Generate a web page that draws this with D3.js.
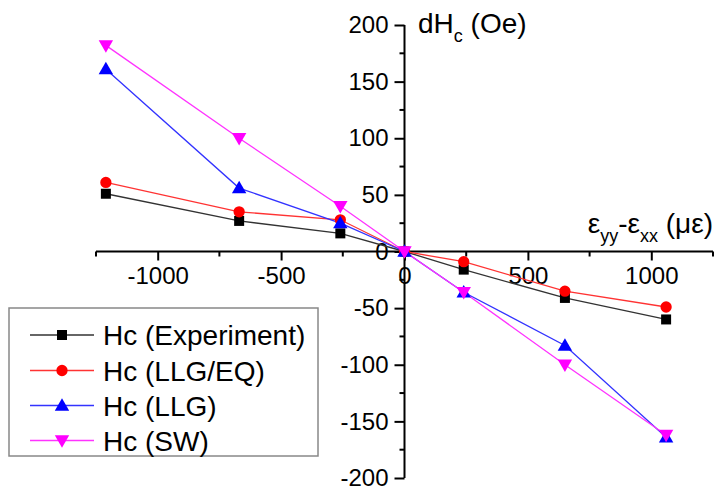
<!DOCTYPE html>
<html><head><meta charset="utf-8">
<script src="https://cdn.jsdelivr.net/npm/d3@7"></script>
<style>body{margin:0;background:#fff}svg{display:block;font-family:"Liberation Sans",Arial,sans-serif}</style>
</head><body><svg id="c" width="720" height="491"></svg>
<script>
const strain = [-1210, -670, -260, 0, 240, 650, 1060];
const hcExperiment = [51, 27, 16, 0, -16, -41, -60];
const hcLLGEQ = [61, 35, 28, 0, -9, -35, -49];
const hcLLG = [161, 56, 25, 0, -36, -83, -164];
const hcSW = [182, 100, 40, 0, -36, -100, -162];
const xTicks = [-1000, -500, 0, 500, 1000];
const yTicks = [-200, -150, -100, -50, 0, 50, 100, 150, 200];
const seriesNames = ["Hc (Experiment)", "Hc (LLG/EQ)", "Hc (LLG)", "Hc (SW)"];

const svg = d3.select("#c");
const x = d3.scaleLinear().domain([-1250, 1250]).range([96, 713]);
const y = d3.scaleLinear().domain([-200, 200]).range([478, 25]);

const series = [
  {name: seriesNames[0], vals: hcExperiment, line: "#333", fill: "#000", sym: d3.symbolSquare, size: 100, rot: 0},
  {name: seriesNames[1], vals: hcLLGEQ, line: "#ff3333", fill: "#ff0000", sym: d3.symbolCircle, size: 100, rot: 0},
  {name: seriesNames[2], vals: hcLLG, line: "#3333ff", fill: "#0000ff", sym: d3.symbolTriangle, size: 90, rot: 0},
  {name: seriesNames[3], vals: hcSW, line: "#ff33ff", fill: "#ff00ff", sym: d3.symbolTriangle, size: 90, rot: 180}
];

// axes
const x0 = x(0), y0 = y(0);
const xAxis = d3.axisBottom(x).tickValues(xTicks).tickSize(9).tickFormat(d => d === 0 ? "0" : d3.format("")(d).replace("−", "-"));
const gx = svg.append("g").attr("transform", `translate(0,${y0})`).call(xAxis);
gx.select(".domain").attr("stroke", "#000").attr("stroke-width", 2).attr("d", `M${x(-1250)},0H${x(1250)}`);
gx.selectAll(".tick line").attr("stroke", "#000").attr("stroke-width", 2);
gx.selectAll(".tick text").attr("font-size", 24).attr("fill", "#000").attr("y", 15).attr("font-family", "Liberation Sans, Arial, sans-serif");
const xMinor = d3.range(-1250, 1251, 250).filter(v => !xTicks.includes(v));
gx.selectAll(".minor").data(xMinor).enter().append("line")
  .attr("x1", d => x(d)).attr("x2", d => x(d)).attr("y1", 0).attr("y2", 5).attr("stroke", "#000").attr("stroke-width", 2);

const yAxis = d3.axisLeft(y).tickValues(yTicks).tickSize(10).tickFormat(d => String(d));
const gy = svg.append("g").attr("transform", `translate(${x0},0)`).call(yAxis);
gy.select(".domain").attr("stroke", "#000").attr("stroke-width", 2).attr("d", `M0,${y(200)}V${y(-200)}`);
gy.selectAll(".tick line").attr("stroke", "#000").attr("stroke-width", 2);
gy.selectAll(".tick text").attr("font-size", 24).attr("fill", "#000").attr("x", -16).attr("font-family", "Liberation Sans, Arial, sans-serif");
const yMinor = d3.range(-175, 200, 50);
gy.selectAll(".minor").data(yMinor).enter().append("line")
  .attr("x1", -5).attr("x2", 0).attr("y1", d => y(d)).attr("y2", d => y(d)).attr("stroke", "#000").attr("stroke-width", 2);

// axis labels
const yl = svg.append("text").attr("x", 418).attr("y", 33).attr("font-size", 28).attr("fill", "#000");
yl.append("tspan").text("dH");
yl.append("tspan").attr("font-size", 18).attr("dy", 9).text("c");
yl.append("tspan").attr("dy", -9).text(" (Oe)");

const xl = svg.append("text").attr("x", 713).attr("y", 233).attr("font-size", 28).attr("fill", "#000").attr("text-anchor", "end");
xl.append("tspan").text("ε");
xl.append("tspan").attr("font-size", 18).attr("dy", 9).text("yy");
xl.append("tspan").attr("dy", -9).text("-ε");
xl.append("tspan").attr("font-size", 18).attr("dy", 9).text("xx");
xl.append("tspan").attr("dy", -9).text(" (με)");

// series
const line = d3.line().x((d, i) => x(strain[i])).y(d => y(d));
series.forEach(s => {
  svg.append("path").attr("d", line(s.vals)).attr("fill", "none").attr("stroke", s.line).attr("stroke-width", 1.3);
});
series.forEach(s => {
  const sym = d3.symbol().type(s.sym).size(s.size);
  svg.append("g").selectAll("path").data(s.vals).enter().append("path")
    .attr("d", sym)
    .attr("transform", (d, i) => `translate(${x(strain[i])},${y(d) + (s.sym === d3.symbolTriangle ? (s.rot ? -1 : 1) : 0)}) rotate(${s.rot})`)
    .attr("fill", s.fill);
});

// legend
const lg = svg.append("g");
lg.append("rect").attr("x", 9).attr("y", 308).attr("width", 309).attr("height", 148)
  .attr("fill", "#fff").attr("stroke", "#888").attr("stroke-width", 1.5);
const rowY = [335, 370.5, 405.5, 440.5];
series.forEach((s, i) => {
  lg.append("line").attr("x1", 30).attr("x2", 94).attr("y1", rowY[i]).attr("y2", rowY[i]).attr("stroke", s.line).attr("stroke-width", 1.3);
  lg.append("path").attr("d", d3.symbol().type(s.sym).size(s.size)())
    .attr("transform", `translate(62,${rowY[i] + (s.sym === d3.symbolTriangle ? (s.rot ? -1 : 1) : 0)}) rotate(${s.rot})`).attr("fill", s.fill);
  lg.append("text").attr("x", 103).attr("y", rowY[i] + 10).attr("font-size", 28).attr("fill", "#000").text(s.name);
});
</script></body></html>
